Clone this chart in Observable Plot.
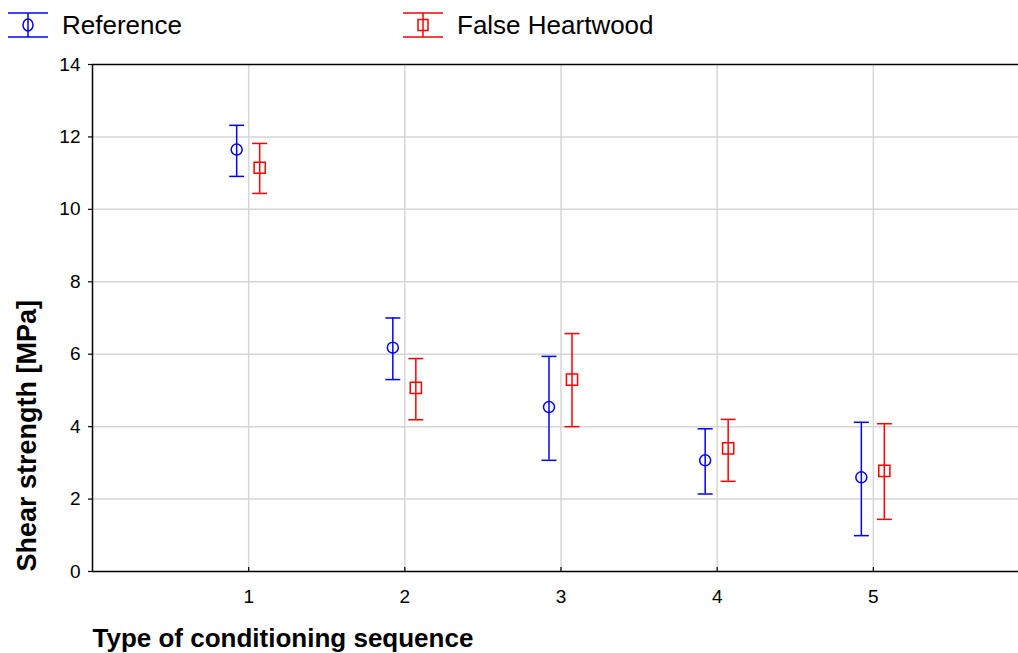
<!DOCTYPE html>
<html>
<head>
<meta charset="utf-8">
<script src="https://cdn.jsdelivr.net/npm/d3@7"></script>
<script src="https://cdn.jsdelivr.net/npm/@observablehq/plot@0.6"></script>
<style>
  html, body { margin: 0; padding: 0; background: #fff; width: 1018px; height: 653px; overflow: hidden; }
  body { font-family: "Liberation Sans", Arial, sans-serif; }
  #legend { position: relative; height: 44px; width: 1018px; }
  .item { position: absolute; top: 0; height: 44px; }
  .item svg { position: absolute; left: 0; top: 11px; }
  .item span { position: absolute; left: 54px; top: 10px; font-size: 26px; line-height: 30px; color: #000; white-space: nowrap; }
  #chart { width: 1018px; overflow: hidden; }
  #chart svg { display: block; max-width: none !important; width: 1030px; height: 609px; }
</style>
</head>
<body>
<div id="legend"></div>
<div id="chart"></div>
<script>
// ---- data ----
const categories = [1, 2, 3, 4, 5];
const seriesNames = ["Reference", "False Heartwood"];
const seriesColors = ["#0000ff", "#ff0000"];
const refMean = [11.65, 6.18, 4.54, 3.07, 2.60];
const refLow  = [10.91, 5.30, 3.07, 2.14, 0.99];
const refHigh = [12.32, 7.00, 5.94, 3.94, 4.12];
const fhMean  = [11.15, 5.07, 5.30, 3.40, 2.78];
const fhLow   = [10.44, 4.19, 4.00, 2.49, 1.44];
const fhHigh  = [11.82, 5.88, 6.57, 4.20, 4.08];
const yTicks = [0, 2, 4, 6, 8, 10, 12, 14];
const xTicks = [1, 2, 3, 4, 5];
const xTitle = "Type of conditioning sequence";
const yTitle = "Shear strength [MPa]";

const refData = categories.map((c, i) => ({cat: c, mean: refMean[i], lo: refLow[i], hi: refHigh[i]}));
const fhData = categories.map((c, i) => ({cat: c, mean: fhMean[i], lo: fhLow[i], hi: fhHigh[i]}));

// horizontal cap symbol
const capSymbol = {
  draw(context, size) {
    const r = Math.sqrt(size / Math.PI);
    context.moveTo(-r, 0);
    context.lineTo(r, 0);
  }
};

// ---- legend ----
const legend = document.getElementById("legend");
const legendLeft = [8, 403];
seriesNames.forEach((name, i) => {
  const col = seriesColors[i];
  const marker = i === 0
    ? `<ellipse cx="20" cy="14" rx="5" ry="6" fill="none" stroke="${col}" stroke-width="1.5"/>`
    : `<rect x="15" y="8.5" width="10" height="11" fill="none" stroke="${col}" stroke-width="1.5"/>`;
  const div = document.createElement("div");
  div.className = "item";
  div.style.left = legendLeft[i] + "px";
  div.innerHTML = `<svg width="42" height="28">
    <line x1="0" x2="40" y1="2" y2="2" stroke="${col}" stroke-width="1.5"/>
    <line x1="0" x2="40" y1="26" y2="26" stroke="${col}" stroke-width="1.5"/>
    <line x1="20" x2="20" y1="2" y2="26" stroke="${col}" stroke-width="1.5"/>
    ${marker}
  </svg><span>${name}</span>`;
  legend.appendChild(div);
});

// ---- chart ----
function seriesMarks(data, color, dx, symbol, r) {
  return [
    Plot.ruleX(data, {x: "cat", y1: "lo", y2: "hi", stroke: color, strokeWidth: 1.5, dx}),
    Plot.dot(data, {x: "cat", y: "hi", symbol: capSymbol, r: 7.5, stroke: color, strokeWidth: 1.5, dx}),
    Plot.dot(data, {x: "cat", y: "lo", symbol: capSymbol, r: 7.5, stroke: color, strokeWidth: 1.5, dx}),
    Plot.dot(data, {x: "cat", y: "mean", symbol, r, stroke: color, fill: "none", strokeWidth: 1.5, dx})
  ];
}

const chart = Plot.plot({
  width: 1030,
  height: 609,
  marginLeft: 92,
  marginRight: 1,
  marginTop: 20,
  marginBottom: 82,
  style: {fontFamily: "'Liberation Sans', Arial, sans-serif", fontSize: "19px", color: "#000", background: "#fff", maxWidth: "none"},
  x: {domain: [0, 6]},
  y: {domain: [0, 14]},
  marks: [
    Plot.gridX(xTicks, {stroke: "#d6d6d6", strokeOpacity: 1, strokeWidth: 1.5}),
    Plot.gridY(yTicks.filter(d => d > 0 && d < 14), {stroke: "#d6d6d6", strokeOpacity: 1, strokeWidth: 1.5}),
    Plot.ruleY([0, 14], {stroke: "#000", strokeWidth: 1.5}),
    Plot.ruleX([0], {stroke: "#000", strokeWidth: 1.5}),
    Plot.ruleX(xTicks, {x: d => d, insetTop: 503, stroke: "#000", strokeWidth: 1.2}),
    Plot.axisY(yTicks, {tickSize: 4, tickPadding: 8, label: null, fontSize: 19, tickFormat: d => String(d), stroke: "#000", strokeWidth: 1.2}),
    Plot.axisX(xTicks, {tickSize: 0, tickPadding: 18, label: null, fontSize: 19, tickFormat: d => String(d)}),
    Plot.text([xTitle], {frameAnchor: "bottom-left", text: d => d, textAnchor: "start", lineAnchor: "bottom", dx: 0, dy: 75, fontSize: 26, fontWeight: "bold", fill: "#000"}),
    Plot.text([yTitle], {frameAnchor: "bottom-left", text: d => d, textAnchor: "start", lineAnchor: "middle", rotate: -90, dx: -65, dy: 0, fontSize: 27, fontWeight: "bold", fill: "#000"}),
    ...seriesMarks(refData, seriesColors[0], -12, "circle", 5.5),
    ...seriesMarks(fhData, seriesColors[1], 11, "square", 6.3)
  ]
});
document.getElementById("chart").appendChild(chart);
</script>
</body>
</html>
